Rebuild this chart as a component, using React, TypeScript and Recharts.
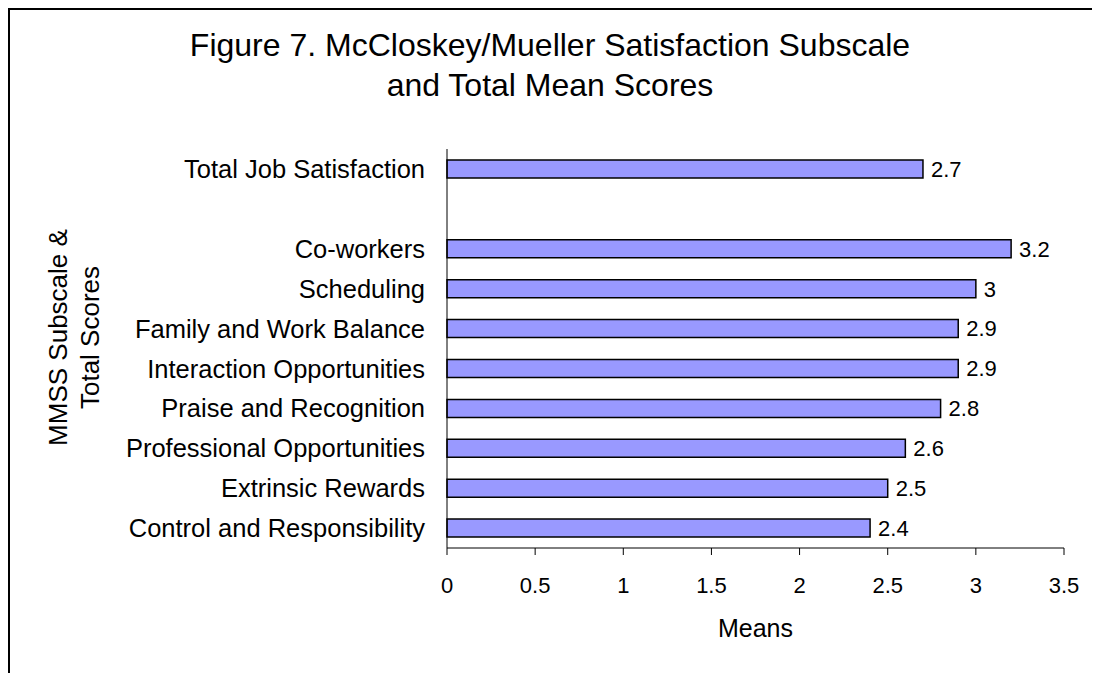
import { BarChart, Bar, XAxis, YAxis, LabelList } from "recharts";

const categories = [
  "Total Job Satisfaction",
  "",
  "Co-workers",
  "Scheduling",
  "Family and Work Balance",
  "Interaction Opportunities",
  "Praise and Recognition",
  "Professional Opportunities",
  "Extrinsic Rewards",
  "Control and Responsibility",
];
const means = [2.7, null, 3.2, 3, 2.9, 2.9, 2.8, 2.6, 2.5, 2.4];
const xTicks = [0, 0.5, 1, 1.5, 2, 2.5, 3, 3.5];

const data = categories.map((name, i) => ({ name, mean: means[i] }));

const font = "'Liberation Sans', Arial, sans-serif";

// two-line rotated axis title
const YTitle = ({ viewBox }: any) => {
  const cx = viewBox.x + 69;
  const cy = viewBox.y + viewBox.height / 2 - 11;
  return (
    <text
      transform={`rotate(-90 ${cx} ${cy})`}
      x={cx}
      y={cy}
      textAnchor="middle"
      fontSize={26}
      fontFamily={font}
      fill="#000"
    >
      <tspan x={cx} dy={-10}>MMSS Subscale &amp;</tspan>
      <tspan x={cx} dy={32}>Total Scores</tspan>
    </text>
  );
};

const App = () => {
  return (
    <div
      style={{
        position: "relative",
        width: 1092,
        height: 665,
        borderTop: "2px solid #000",
        borderLeft: "2px solid #000",
        boxSizing: "border-box",
        fontFamily: font,
      }}
    >
      <div
        style={{
          position: "absolute",
          top: 15,
          left: 140,
          width: 800,
          textAlign: "center",
          fontSize: 32,
          lineHeight: "40px",
          color: "#000",
        }}
      >
        Figure 7. McCloskey/Mueller Satisfaction Subscale
        <br />
        and Total Mean Scores
      </div>
      <div style={{ position: "absolute", top: -1, left: -2 }}>
        <BarChart
          width={1092}
          height={665}
          layout="vertical"
          data={data}
          barSize={18}
          margin={{ top: 140, right: 36, left: 0, bottom: 36 }}
        >
          <XAxis
            type="number"
            domain={[0, 3.5]}
            ticks={xTicks}
            stroke="#000"
            tickSize={7}
            tickMargin={22}
            height={90}
            tick={{ fill: "#000", fontSize: 22, fontFamily: font }}
            label={{
              value: "Means",
              position: "insideBottom",
              offset: 1,
              fill: "#000",
              fontSize: 25,
              fontFamily: font,
            }}
          />
          <YAxis
            type="category"
            dataKey="name"
            width={439}
            stroke="#000"
            tickLine={false}
            tickSize={0}
            tickMargin={22}
            interval={0}
            tick={{ fill: "#000", fontSize: 25.5, fontFamily: font }}
            label={{ content: YTitle }}
          />
          <Bar
            dataKey="mean"
            fill="#9999FF"
            stroke="#000"
            strokeWidth={1.5}
            isAnimationActive={false}
          >
            <LabelList
              dataKey="mean"
              position="right"
              offset={8}
              fill="#000"
              fontSize={22}
              fontFamily={font}
            />
          </Bar>
        </BarChart>
      </div>
    </div>
  );
};

export default App;
